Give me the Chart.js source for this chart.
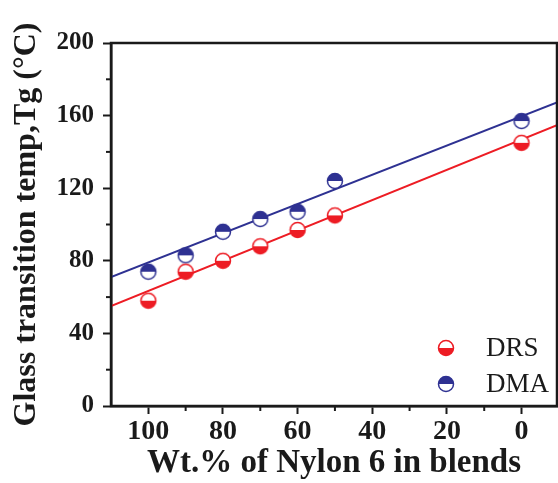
<!DOCTYPE html>
<html>
<head>
<meta charset="utf-8">
<script src="https://cdn.jsdelivr.net/npm/chart.js@4.4.1/dist/chart.umd.min.js"></script>
<style>
  html, body { margin: 0; padding: 0; background: #fff; overflow: hidden; }
  #wrap { width: 558px; height: 483px; position: relative; }
  #chart { display: block; }
</style>
</head>
<body>
<div id="wrap"><canvas id="chart"></canvas></div>
<script>
const nylonWt = [100, 90, 80, 70, 60, 50, 0];
const tgDRS = [58, 74, 80, 88, 97, 105, 145];
const tgDMA = [74, 83, 96, 103, 107, 124, 157];

const fitX = [110, -9.5];
const fitDRS = [55.0, 154.7];
const fitDMA = [71.1, 167.2];

const xTicks = [100, 80, 60, 40, 20, 0];
const xMinorTicks = [90, 70, 50, 30, 10];
const yTicks = [0, 40, 80, 120, 160, 200];
const yMinorTicks = [20, 60, 100, 140, 180];

const RED = '#ed1c24';
const BLUE = '#2e3192';
const INK = '#1a1a1a';
const SERIF = '"Liberation Serif", "Times New Roman", serif';

// half filled circle used as marker
function halfMarker(color, topFilled) {
    const c = document.createElement('canvas');
    c.width = c.height = 20;
    const g = c.getContext('2d');
    const r = 7.5;
    g.fillStyle = '#fff';
    g.beginPath(); g.arc(10, 10, r, 0, Math.PI * 2); g.fill();
    g.fillStyle = color;
    g.beginPath();
    if (topFilled) g.arc(10, 10, r, Math.PI, 0); else g.arc(10, 10, r, 0, Math.PI);
    g.closePath(); g.fill();
    g.strokeStyle = color;
    g.lineWidth = 1.5;
    g.beginPath(); g.arc(10, 10, r, 0, Math.PI * 2); g.stroke();
    return c;
}

const drsMarker = halfMarker(RED, false);
const dmaMarker = halfMarker(BLUE, true);

const toPoints = (xs, ys) => xs.map((x, i) => ({ x, y: ys[i] }));

// minor ticks + closed frame
const frame = {
    id: 'frame',
    afterDraw(chart) {
        const { ctx, chartArea: a, scales: { x, y } } = chart;
        ctx.save();
        ctx.strokeStyle = INK;
        ctx.lineWidth = 2;
        xMinorTicks.forEach(v => {
            const px = x.getPixelForValue(v);
            ctx.beginPath(); ctx.moveTo(px, a.bottom); ctx.lineTo(px, a.bottom + 5); ctx.stroke();
        });
        yMinorTicks.forEach(v => {
            const py = y.getPixelForValue(v);
            ctx.beginPath(); ctx.moveTo(a.left, py); ctx.lineTo(a.left - 5, py); ctx.stroke();
        });
        ctx.lineWidth = 2.5;
        ctx.strokeRect(a.left, a.top, a.width, a.height);
        ctx.restore();
    }
};

// legend sits inside the plot, bottom right
const insideLegend = {
    id: 'insideLegend',
    afterDatasetsDraw(chart) {
        const { ctx, chartArea: a } = chart;
        const items = chart.data.datasets.filter(d => d.inLegend);
        ctx.save();
        ctx.font = '27px ' + SERIF;
        ctx.fillStyle = INK;
        ctx.textBaseline = 'middle';
        items.forEach((d, i) => {
            const cx = a.right - 111;
            const cy = a.bottom - 58 + i * 36;
            ctx.drawImage(d.pointStyle, cx - 10, cy - 10);
            ctx.fillText(d.label, cx + 40, cy + 1);
        });
        ctx.restore();
    }
};

new Chart(document.getElementById('chart'), {
    type: 'scatter',
    data: {
        datasets: [
            { label: 'DRS', inLegend: true, data: toPoints(nylonWt, tgDRS), pointStyle: drsMarker, pointRadius: 8, order: 0 },
            { label: 'DMA', inLegend: true, data: toPoints(nylonWt, tgDMA), pointStyle: dmaMarker, pointRadius: 8, order: 0 },
            { label: 'DRS fit', data: toPoints(fitX, fitDRS), showLine: true, borderColor: RED, borderWidth: 2, pointRadius: 0, order: 1 },
            { label: 'DMA fit', data: toPoints(fitX, fitDMA), showLine: true, borderColor: BLUE, borderWidth: 2, pointRadius: 0, order: 1 }
        ]
    },
    options: {
        responsive: true,
        maintainAspectRatio: false,
        devicePixelRatio: 1,
        animation: false,
        layout: { autoPadding: false, padding: { top: 43, right: 1, left: 0, bottom: 0 } },
        plugins: { legend: { display: false }, tooltip: { enabled: false } },
        scales: {
            x: {
                type: 'linear',
                reverse: true,
                min: -9.5,
                max: 110,
                afterBuildTicks: s => { s.ticks = xTicks.map(v => ({ value: v })); },
                afterFit: s => { s.height = 77; s.paddingLeft = 0; s.paddingRight = 0; },
                ticks: { font: { family: SERIF, size: 28, weight: 'bold' }, color: INK, padding: 1, maxRotation: 0, autoSkip: false },
                grid: { drawOnChartArea: false, tickLength: 8, tickWidth: 2, tickColor: INK },
                border: { color: INK, width: 2.5 },
                title: { display: true, text: 'Wt.% of Nylon 6 in blends', color: INK, font: { family: SERIF, size: 33, weight: 'bold' }, padding: { top: 0, bottom: 0 } }
            },
            y: {
                min: 0,
                max: 200,
                afterBuildTicks: s => { s.ticks = yTicks.map(v => ({ value: v })); },
                afterFit: s => { s.width = 111; s.paddingTop = 0; s.paddingBottom = 0; },
                ticks: { font: { family: SERIF, size: 25, weight: 'bold' }, color: INK, padding: 9 },
                grid: { drawOnChartArea: false, tickLength: 8, tickWidth: 2, tickColor: INK },
                border: { color: INK, width: 2.5 },
                title: { display: true, text: 'Glass transition temp,Tg (°C)', color: INK, font: { family: SERIF, size: 32, weight: 'bold' }, padding: { top: 8, bottom: 0 } }
            }
        }
    },
    plugins: [frame, insideLegend]
});
</script>
</body>
</html>
